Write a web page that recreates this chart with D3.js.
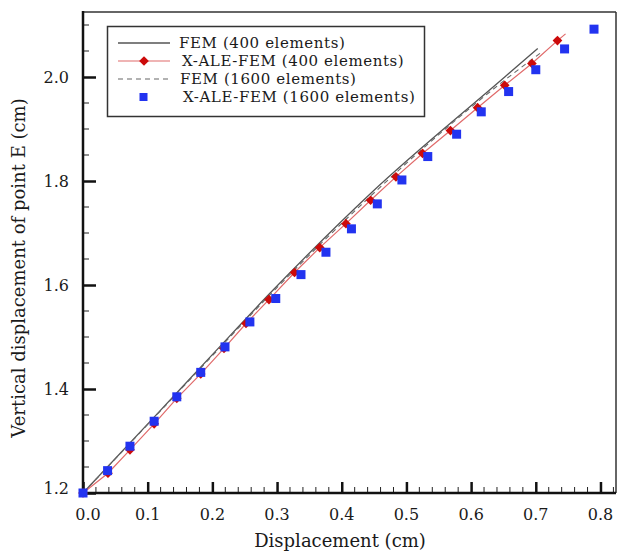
<!DOCTYPE html>
<html>
<head>
<meta charset="utf-8">
<script src="https://d3js.org/d3.v7.min.js"></script>
<style>
  body { margin: 0; background: #fff; }
  text { font-family: "DejaVu Serif", serif; fill: #1a1a1a; }
</style>
</head>
<body>
<div id="chart"></div>
<script>
// FEM (400 elements) - solid gray
var fem400X = [0, 0.11, 0.2, 0.289, 0.4446, 0.652, 0.703];
var fem400Y = [1.2, 1.346, 1.466, 1.584, 1.776, 2.0, 2.055];
// FEM (1600 elements) - dashed
var fem1600X = [0, 0.11, 0.2, 0.289, 0.4446, 0.652, 0.7115];
var fem1600Y = [1.2, 1.345, 1.464, 1.581, 1.771, 1.994, 2.05];
// X-ALE-FEM (400 elements) - red line + diamonds
var ale400X = [0, 0.0386, 0.0726, 0.11, 0.145, 0.182, 0.218, 0.252, 0.2875, 0.327, 0.366, 0.4065, 0.4446, 0.4838, 0.525, 0.568, 0.61, 0.652, 0.694, 0.7335];
var ale400Y = [1.2, 1.238, 1.283, 1.333, 1.382, 1.429, 1.478, 1.526, 1.572, 1.624, 1.672, 1.718, 1.763, 1.808, 1.853, 1.897, 1.941, 1.984, 2.026, 2.07];
var ale400TailX = [0.746];
var ale400TailY = [2.083];
// X-ALE-FEM (1600 elements) - blue squares
var ale1600X = [0, 0.038, 0.0726, 0.11, 0.145, 0.182, 0.2195, 0.258, 0.298, 0.337, 0.3756, 0.415, 0.455, 0.493, 0.533, 0.5776, 0.6157, 0.658, 0.7, 0.7445, 0.79];
var ale1600Y = [1.2, 1.243, 1.29, 1.338, 1.385, 1.432, 1.481, 1.529, 1.574, 1.62, 1.663, 1.708, 1.756, 1.802, 1.847, 1.89, 1.933, 1.972, 2.014, 2.054, 2.092];

var xTicks = [0, 0.1, 0.2, 0.3, 0.4, 0.5, 0.6, 0.7, 0.8];
var yTicks = [1.2, 1.4, 1.6, 1.8, 2.0];
var legendLabels = ["FEM (400 elements)", "X-ALE-FEM (400 elements)", "FEM (1600 elements)", "X-ALE-FEM (1600 elements)"];

var margin = {top: 12, right: 2, bottom: 59, left: 83},
    W = 618, H = 552,
    width = W - margin.left - margin.right,
    height = H - margin.top - margin.bottom;

var svg = d3.select("#chart").append("svg")
  .attr("width", W).attr("height", H);
var g = svg.append("g")
  .attr("transform", "translate(" + margin.left + "," + margin.top + ")");

var x = d3.scaleLinear().domain([0, 0.824]).range([0, width]);
var y = d3.scaleLinear().domain([1.2, 2.125]).range([height, 0]);

function zip(a, b) { return a.map(function(v, i) { return [v, b[i]]; }); }
var line = d3.line().x(function(d) { return x(d[0]); }).y(function(d) { return y(d[1]); });
var smooth = d3.line().curve(d3.curveMonotoneX).x(function(d) { return x(d[0]); }).y(function(d) { return y(d[1]); });

// minor ticks
var xMinor = d3.range(0, 0.821, 0.02).filter(function(v) { return Math.abs(v * 10 - Math.round(v * 10)) > 1e-6; });
var yMinor = d3.range(1.2, 2.125, 0.05).filter(function(v) { return Math.abs(v * 5 - Math.round(v * 5)) > 1e-6; });

g.selectAll(".xminor").data(xMinor).enter().append("line")
  .attr("x1", function(d) { return x(d); }).attr("x2", function(d) { return x(d); })
  .attr("y1", height).attr("y2", height - 6)
  .attr("stroke", "#222").attr("stroke-width", 1);
g.selectAll(".yminor").data(yMinor).enter().append("line")
  .attr("y1", function(d) { return y(d); }).attr("y2", function(d) { return y(d); })
  .attr("x1", 0).attr("x2", 6)
  .attr("stroke", "#222").attr("stroke-width", 1);

// major ticks via axes (inward)
var xAxis = g.append("g").attr("transform", "translate(0," + height + ")")
  .call(d3.axisTop(x).tickValues(xTicks).tickSize(11).tickFormat(""));
var yAxis = g.append("g")
  .call(d3.axisRight(y).tickValues(yTicks).tickSize(13).tickFormat(""));
[xAxis, yAxis].forEach(function(a) {
  a.select(".domain").remove();
  a.selectAll(".tick line").attr("stroke", "#111").attr("stroke-width", 2.5);
});

// tick labels
g.selectAll(".xlab").data(xTicks).enter().append("text")
  .attr("x", function(d) { return x(d) + (d === 0 ? 5 : 0); })
  .attr("y", height + 27)
  .attr("text-anchor", "middle")
  .style("font-size", "16px")
  .text(function(d) { return d3.format(".1f")(d); });
g.selectAll(".ylab").data(yTicks).enter().append("text")
  .attr("x", -14)
  .attr("y", function(d) { return y(d) + (d === 1.2 ? 1 : 6); })
  .attr("text-anchor", "end")
  .style("font-size", "16px")
  .text(function(d) { return d3.format(".1f")(d); });

// frame
g.append("line").attr("x1", 0).attr("x2", width).attr("y1", 0).attr("y2", 0)
  .attr("stroke", "#333").attr("stroke-width", 1.5);
g.append("line").attr("x1", width).attr("x2", width).attr("y1", 0).attr("y2", height)
  .attr("stroke", "#333").attr("stroke-width", 1.5);
g.append("line").attr("x1", 0).attr("x2", 0).attr("y1", -1).attr("y2", height + 1)
  .attr("stroke", "#111").attr("stroke-width", 2.5);
g.append("line").attr("x1", -1).attr("x2", width).attr("y1", height).attr("y2", height)
  .attr("stroke", "#111").attr("stroke-width", 2.5);

// lines
g.append("path").datum(zip(fem400X, fem400Y)).attr("d", smooth)
  .attr("fill", "none").attr("stroke", "#555").attr("stroke-width", 1.3);
g.append("path").datum(zip(fem1600X, fem1600Y)).attr("d", smooth)
  .attr("fill", "none").attr("stroke", "#666").attr("stroke-width", 1.1).attr("stroke-dasharray", "5,4");
g.append("path").datum(zip(ale400X.concat(ale400TailX), ale400Y.concat(ale400TailY))).attr("d", line)
  .attr("fill", "none").attr("stroke", "#e06a6a").attr("stroke-width", 1.2);

var diamond = d3.symbol().type(d3.symbolDiamond2).size(60);
g.selectAll(".dia").data(zip(ale400X, ale400Y)).enter().append("path")
  .attr("d", diamond)
  .attr("transform", function(d) { return "translate(" + x(d[0]) + "," + y(d[1]) + ")"; })
  .attr("fill", "#cc0a0a");
g.selectAll(".sq").data(zip(ale1600X, ale1600Y)).enter().append("rect")
  .attr("x", function(d) { return x(d[0]) - 4.5; })
  .attr("y", function(d) { return y(d[1]) - 4.5; })
  .attr("width", 9).attr("height", 9)
  .attr("fill", "#2233f0");

// legend
var leg = svg.append("g");
leg.append("rect").attr("x", 107.5).attr("y", 26.5).attr("width", 317).attr("height", 90)
  .attr("fill", "#fff").attr("stroke", "#333").attr("stroke-width", 1.5);
var rowY = [43, 61, 79, 97];
var rowTx = [179, 182, 180, 183];
leg.append("line").attr("x1", 118).attr("x2", 170).attr("y1", rowY[0]).attr("y2", rowY[0])
  .attr("stroke", "#555").attr("stroke-width", 1.3);
leg.append("line").attr("x1", 118).attr("x2", 170).attr("y1", rowY[1]).attr("y2", rowY[1])
  .attr("stroke", "#e06a6a").attr("stroke-width", 1.2);
leg.append("path").attr("d", diamond).attr("transform", "translate(144," + rowY[1] + ")").attr("fill", "#cc0a0a");
leg.append("line").attr("x1", 118).attr("x2", 170).attr("y1", rowY[2]).attr("y2", rowY[2])
  .attr("stroke", "#666").attr("stroke-width", 1.1).attr("stroke-dasharray", "5,4");
leg.append("rect").attr("x", 139.5).attr("y", rowY[3] - 4).attr("width", 8).attr("height", 8).attr("fill", "#2233f0");
leg.selectAll(".lt").data(legendLabels).enter().append("text")
  .attr("x", function(d, i) { return rowTx[i]; })
  .attr("y", function(d, i) { return rowY[i] + 5; })
  .style("font-size", "15px")
  .style("letter-spacing", "0.6px")
  .text(function(d) { return d; });

// axis titles
svg.append("text").attr("x", 340).attr("y", 547).attr("text-anchor", "middle")
  .style("font-size", "18px").text("Displacement (cm)");
svg.append("text").attr("transform", "translate(25,268) rotate(-90)").attr("text-anchor", "middle")
  .style("font-size", "18px").text("Vertical displacement of point E (cm)");
</script>
</body>
</html>
